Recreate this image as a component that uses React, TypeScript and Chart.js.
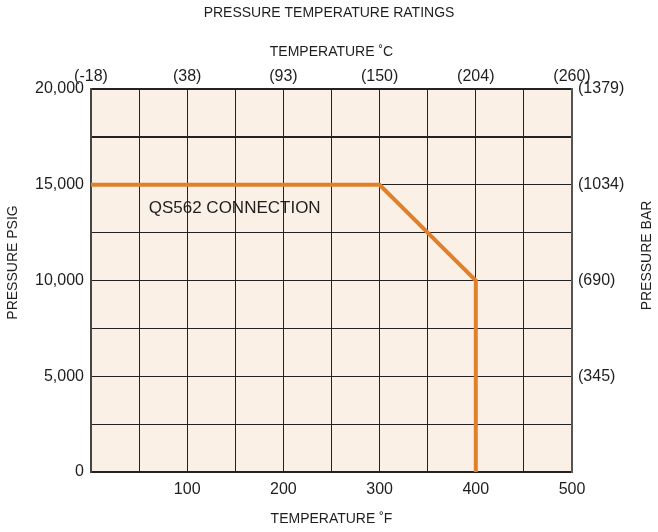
import React, { useEffect, useRef } from 'react';
import { Chart, registerables } from 'chart.js';

Chart.register(...registerables);

const TITLE = 'PRESSURE TEMPERATURE RATINGS';
const X_TITLE_BOTTOM = 'TEMPERATURE ˚F';
const X_TITLE_TOP = 'TEMPERATURE ˚C';
const Y_TITLE_LEFT = 'PRESSURE PSIG';
const Y_TITLE_RIGHT = 'PRESSURE BAR';
const SERIES_LABEL = 'QS562 CONNECTION';

// series: temperature (°F) vs pressure (psig)
const tempF = [0, 300, 400, 400];
const pressurePsig = [15000, 15000, 10000, 0];

// axis ticks
const fahrenheitLabelValues = [100, 200, 300, 400, 500];
const celsiusTickValues = [0, 100, 200, 300, 400, 500];
const celsiusTickLabels = ['(-18)', '(38)', '(93)', '(150)', '(204)', '(260)'];
const psigLabelValues = [0, 5000, 10000, 15000, 20000];
const barTickValues = [5000, 10000, 15000, 20000];
const barTickLabels = ['(345)', '(690)', '(1034)', '(1379)'];
const seriesLabelAt = { x: 60, y: 13750 };

const FONT = "'Liberation Sans', Arial, Helvetica, sans-serif";
const TEXT = '#1e1e1e';
const ORANGE = '#E2802A';
const FILL = '#FBF0E6';
const GRID = '#222222';

const decorPlugin = {
  id: 'decor',
  beforeDraw(chart: any) {
    const { ctx, chartArea } = chart;
    ctx.save();
    ctx.fillStyle = FILL;
    ctx.fillRect(chartArea.left, chartArea.top, chartArea.right - chartArea.left, chartArea.bottom - chartArea.top);
    ctx.restore();
  },
  afterDraw(chart: any) {
    const { ctx, chartArea, scales } = chart;
    ctx.save();
    ctx.fillStyle = TEXT;
    ctx.font = `14px ${FONT}`;
    ctx.textAlign = 'center';
    ctx.textBaseline = 'middle';
    const midY = (chartArea.top + chartArea.bottom) / 2;
    ctx.save();
    ctx.translate(chartArea.left - 78, midY - 18);
    ctx.rotate(-Math.PI / 2);
    ctx.fillText(Y_TITLE_LEFT, 0, 0);
    ctx.restore();
    ctx.save();
    ctx.translate(chartArea.right + 75, midY - 25);
    ctx.rotate(-Math.PI / 2);
    ctx.fillText(Y_TITLE_RIGHT, 0, 0);
    ctx.restore();
    ctx.font = `17px ${FONT}`;
    ctx.textAlign = 'left';
    ctx.fillText(SERIES_LABEL, scales.x.getPixelForValue(seriesLabelAt.x), scales.y.getPixelForValue(seriesLabelAt.y));
    ctx.restore();
  },
};

export default function App() {
  const ref = useRef<HTMLCanvasElement | null>(null);

  useEffect(() => {
    if (!ref.current) return;
    const tickFont = { family: FONT, size: 16 };
    const titleFont = { family: FONT, size: 14 };
    const chart = new Chart(ref.current, {
      type: 'line',
      data: {
        datasets: [
          {
            label: SERIES_LABEL,
            data: tempF.map((x, i) => ({ x, y: pressurePsig[i] })),
            borderColor: ORANGE,
            backgroundColor: ORANGE,
            borderWidth: 4,
            pointRadius: 0,
            tension: 0,
            fill: false,
            borderJoinStyle: 'miter',
            borderCapStyle: 'butt',
            xAxisID: 'x',
            yAxisID: 'y',
          },
        ],
      },
      options: {
        responsive: false,
        animation: false,
        devicePixelRatio: 1,
        layout: { padding: 0 },
        plugins: {
          legend: { display: false },
          tooltip: { enabled: false },
          title: {
            display: true,
            text: TITLE,
            color: TEXT,
            font: { family: FONT, size: 14, weight: 'normal' },
            padding: { top: 5, bottom: 0 },
          },
        },
        scales: {
          x: {
            type: 'linear',
            position: 'bottom',
            min: 0,
            max: 500,
            grid: { color: GRID, lineWidth: 1, drawTicks: false },
            border: { color: '#222', width: 2 },
            ticks: {
              stepSize: 50,
              autoSkip: false,
              maxRotation: 0,
              padding: 8.4,
              color: TEXT,
              font: tickFont,
              callback: (v: any) => (fahrenheitLabelValues.includes(v) ? String(v) : ''),
            },
            title: { display: true, text: X_TITLE_BOTTOM, color: TEXT, font: titleFont, padding: { top: 0, bottom: 4.6 } },
            afterFit: (s: any) => { s.height = 60; },
          },
          x2: {
            type: 'linear',
            position: 'top',
            min: 0,
            max: 500,
            grid: { display: false, drawTicks: false },
            border: { color: '#222', width: 1.5 },
            ticks: {
              stepSize: 100,
              autoSkip: false,
              maxRotation: 0,
              padding: 2.4,
              color: TEXT,
              font: tickFont,
              callback: (v: any) => {
                const i = celsiusTickValues.indexOf(v);
                return i >= 0 ? celsiusTickLabels[i] : '';
              },
            },
            title: { display: true, text: X_TITLE_TOP, color: TEXT, font: titleFont, padding: { top: 21.8, bottom: 0 } },
            afterFit: (s: any) => { s.height = 67.2; },
          },
          y: {
            type: 'linear',
            position: 'left',
            min: 0,
            max: 20000,
            grid: {
              color: GRID,
              lineWidth: (c: any) => (c.tick && c.tick.value === 17500 ? 2 : 1),
              drawTicks: false,
            },
            border: { color: '#444', width: 2 },
            ticks: {
              stepSize: 2500,
              autoSkip: false,
              padding: 7,
              color: TEXT,
              font: tickFont,
              callback: (v: any) => (psigLabelValues.includes(v) ? Number(v).toLocaleString('en-US') : ''),
            },
            afterFit: (s: any) => { s.width = 91; },
          },
          y2: {
            type: 'linear',
            position: 'right',
            min: 0,
            max: 20000,
            grid: { display: false, drawTicks: false },
            border: { color: '#555', width: 2 },
            ticks: {
              stepSize: 5000,
              autoSkip: false,
              padding: 6,
              color: TEXT,
              font: tickFont,
              callback: (v: any) => {
                const i = barTickValues.indexOf(v);
                return i >= 0 ? barTickLabels[i] : '';
              },
            },
            afterFit: (s: any) => { s.width = 86; },
          },
        },
      } as any,
      plugins: [decorPlugin],
    });
    return () => chart.destroy();
  }, []);

  return (
    <div style={{ position: 'absolute', left: 0, top: 0, width: 658, height: 532, background: '#fff' }}>
      <canvas ref={ref} width={658} height={532} style={{ display: 'block' }} />
    </div>
  );
}
